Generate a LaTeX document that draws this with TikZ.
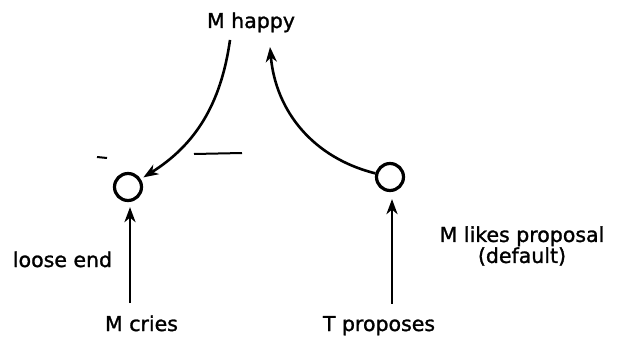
\documentclass[tikz,border=0pt]{standalone}
\usepackage{fontspec}
\setmainfont{DejaVu Sans}
\newfontfamily\lblfont{DejaVu Sans}[FakeBold=1.3]
\usetikzlibrary{arrows.meta,positioning}

\begin{document}
\begin{tikzpicture}[x=1pt, y=-1pt, >={Stealth[length=15pt,width=11pt,inset=4.5pt]},
  lbl/.style={font=\lblfont\fontsize{20.5}{21}\selectfont, inner sep=2pt, anchor=base},
  state/.style={draw, circle, line width=3.2pt, minimum size=27pt, inner sep=0pt},
  link/.style={->, line width=2.6pt}]
  \useasboundingbox (0,0) rectangle (617,337);
  \node[lbl] (happy) at (251,28) {M happy};
  \node[state] (left) at (128,187) {};
  \node[state] (right) at (390,177) {};
  \node[lbl] (cries) at (141.5,331) {M cries};
  \node[lbl] (proposes) at (379,331) {T proposes};
  \node[lbl] (loose) at (62.5,267) {loose end};
  \node[lbl, anchor=center, align=center] (likes) at (522,246) {M likes proposal\\(default)};
  % support links
  \draw[link, shorten <=10pt, shorten >=5pt] ([xshift=2pt]left.south |- cries.north) -- ([xshift=2pt]left.south);
  \draw[link, shorten <=10pt, shorten >=7pt] ([xshift=2pt]right.south |- proposes.north) -- ([xshift=2pt]right.south);
  \draw[link, shorten >=3pt] ([xshift=-21pt,yshift=-5.5pt]happy.south) to[out=-98, in=32] (left);
  \draw[link] (right) to[out=166, in=-85] ([xshift=19pt,yshift=-12.5pt]happy.south);
  % stray marks
  \draw[line width=2pt] (194,154) -- (242,153);
  \draw[line width=2pt] (97,157) -- (107,158);
\end{tikzpicture}
\end{document}
